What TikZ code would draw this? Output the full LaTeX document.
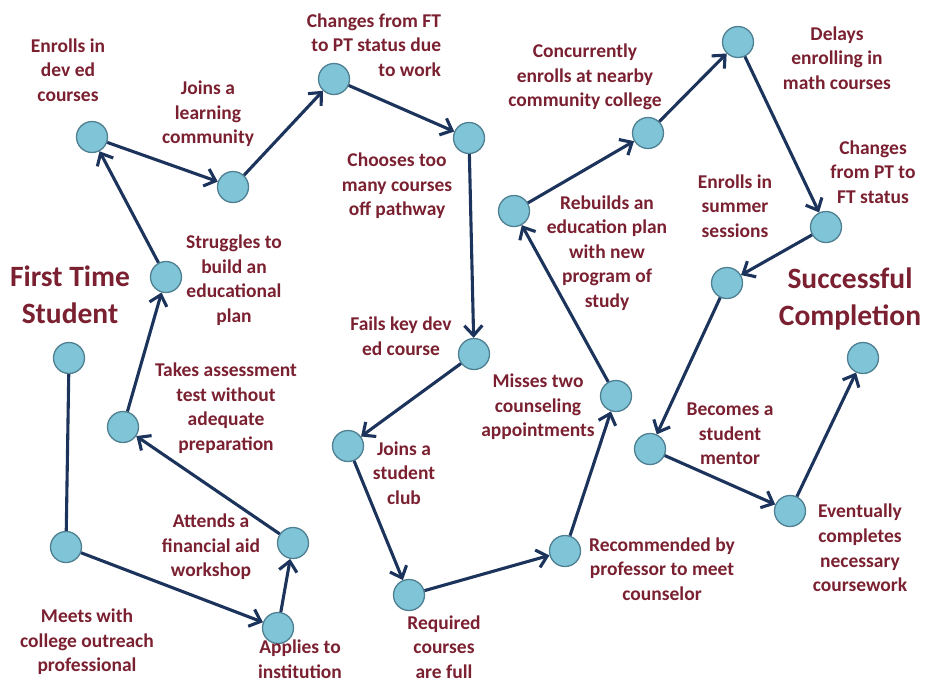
\documentclass[tikz,border=0pt]{standalone}
\usepackage{fontspec}
\setmainfont{Carlito}
\usetikzlibrary{arrows.meta}
\definecolor{txtred}{RGB}{122,32,48}
\definecolor{dotfill}{RGB}{128,196,216}
\definecolor{dotline}{RGB}{78,128,146}
\definecolor{linkblue}{RGB}{28,52,92}
\tikzset{
  dot/.style={circle, minimum size=31pt, inner sep=0pt, fill=dotfill, draw=dotline, line width=1.3pt},
  lbl/.style={text=txtred, align=center, inner sep=0pt, font=\bfseries\fontsize{19.5}{24.6}\selectfont},
  ttl/.style={text=txtred, align=center, inner sep=0pt, font=\bfseries\fontsize{29.5}{37}\selectfont},
  link/.style={draw=linkblue, line width=3.1pt},
  arr/.style={link, -{Straight Barb[length=10pt, width=18pt]}}
}
\begin{document}
\begin{tikzpicture}[x=1pt, y=-1pt]
\useasboundingbox (0,0) rectangle (927,683);
% dots
\node[dot] (c1) at (69,358) {};
\node[dot] (c2) at (66,547) {};
\node[dot] (c3) at (278,628) {};
\node[dot] (c4) at (293,543) {};
\node[dot] (c5) at (123,427) {};
\node[dot] (c6) at (166,277) {};
\node[dot] (c7) at (92,137) {};
\node[dot] (c8) at (233,187) {};
\node[dot] (c9) at (334,79) {};
\node[dot] (c10) at (469,138) {};
\node[dot] (c11) at (474,354) {};
\node[dot] (c12) at (348,446) {};
\node[dot] (c13) at (409,595) {};
\node[dot] (c14) at (565,551) {};
\node[dot] (c15) at (616,396) {};
\node[dot] (c16) at (514,211) {};
\node[dot] (c17) at (648,133) {};
\node[dot] (c18) at (738,42) {};
\node[dot] (c19) at (826,227) {};
\node[dot] (c20) at (727,283) {};
\node[dot] (c21) at (650,449) {};
\node[dot] (c22) at (790,511) {};
\node[dot] (c23) at (863,358) {};
% connectors
\draw[link] (c1) -- (c2);
\draw[arr] (c2) -- (c3);
\draw[arr] (c3) -- (c4);
\draw[arr] (c4) -- (c5);
\draw[arr] (c5) -- (c6);
\draw[arr] (c6) -- (c7);
\draw[arr] (c7) -- (c8);
\draw[arr] (c8) -- (c9);
\draw[arr] (c9) -- (c10);
\draw[arr] (c10) -- (c11);
\draw[arr] (c11) -- (c12);
\draw[arr] (c12) -- (c13);
\draw[arr] (c13) -- (c14);
\draw[arr] (c14) -- (c15);
\draw[arr] (c15) -- (c16);
\draw[arr] (c16) -- (c17);
\draw[arr] (c17) -- (c18);
\draw[arr] (c18) -- (c19);
\draw[arr] (c19) -- (c20);
\draw[arr] (c20) -- (c21);
\draw[arr] (c21) -- (c22);
\draw[arr] (c22) -- (c23);
% titles
\node[ttl] (t1) at (70,295) {First Time\\Student};
\node[ttl] (t2) at (850,299) {Successful\\Completion};
% labels
\node[lbl] (l2) at (87,642) {Meets with\\college outreach\\professional};
\node[lbl] (l3) at (300,659) {Applies to\\institution};
\node[lbl] (l4) at (211,547) {Attends a\\financial aid\\workshop};
\node[lbl] (l5) at (226,408) {Takes assessment\\test without\\adequate\\preparation};
\node[lbl] (l6) at (234,280) {Struggles to\\build an\\educational\\plan};
\node[lbl] (l7) at (68,70) {Enrolls in\\dev ed\\courses};
\node[lbl] (l8) at (208,114) {Joins a\\learning\\community};
\node[lbl, align=right] (l9) at (374,45) {Changes from FT\\to PT status due\\to work};
\node[lbl] (l10) at (397,186) {Chooses too\\many courses\\off pathway};
\node[lbl] (l11) at (401,336) {Fails key dev\\ed course};
\node[lbl] (l12) at (404,473) {Joins a\\student\\club};
\node[lbl] (l13) at (444,647) {Required\\courses\\are full};
\node[lbl] (l14) at (662,569) {Recommended by\\professor to meet\\counselor};
\node[lbl] (l15) at (538,407) {Misses two\\counseling\\appointments};
\node[lbl] (l16) at (607,253) {Rebuilds an\\education plan\\with new\\program of\\study};
\node[lbl] (l17) at (585,77) {Concurrently\\enrolls at nearby\\community college};
\node[lbl] (l18) at (837,58) {Delays\\enrolling in\\math courses};
\node[lbl] (l19) at (873,172) {Changes\\from PT to\\FT status};
\node[lbl] (l20) at (735,206) {Enrolls in\\summer\\sessions};
\node[lbl] (l21) at (730,434) {Becomes a\\student\\mentor};
\node[lbl] (l22) at (860,548) {Eventually\\completes\\necessary\\coursework};
\end{tikzpicture}
\end{document}
